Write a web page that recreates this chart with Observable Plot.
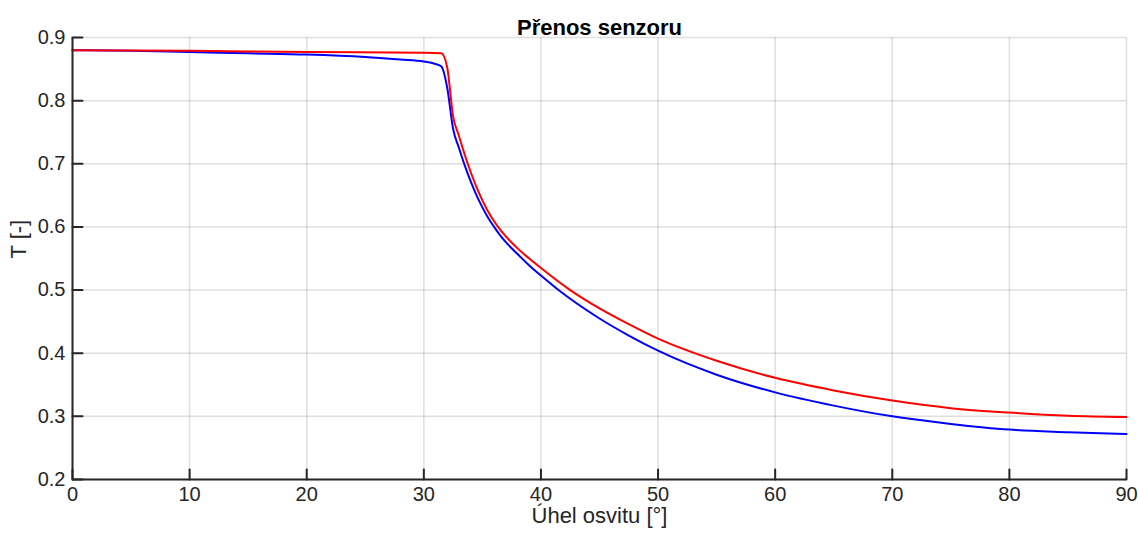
<!DOCTYPE html>
<html>
<head>
<meta charset="utf-8">
<script src="https://cdn.jsdelivr.net/npm/d3@7"></script>
<script src="https://cdn.jsdelivr.net/npm/@observablehq/plot@0.6"></script>
<style>
  html, body { margin: 0; padding: 0; background: #fff; }
  #chart { width: 1138px; height: 542px; }
  svg { font-family: "Liberation Sans", Arial, Helvetica, sans-serif; }
</style>
</head>
<body>
<div id="chart"></div>
<script>
const title = "Přenos senzoru";
const xLabel = "Úhel osvitu [°]";
const yLabel = "T [-]";

const xTicks = [0, 10, 20, 30, 40, 50, 60, 70, 80, 90];
const yTicks = [0.2, 0.3, 0.4, 0.5, 0.6, 0.7, 0.8, 0.9];

const angleRed = [0, 10, 20, 30, 31.5, 32, 32.5, 33, 33.5, 34, 34.5, 35, 35.5, 36, 36.5, 37, 38, 39, 40, 42.5, 45, 47.5, 50, 55, 60, 65, 70, 75, 80, 85, 90];
const tRed     = [0.880, 0.879, 0.877, 0.876, 0.875, 0.852, 0.775, 0.744, 0.714, 0.687, 0.663, 0.642, 0.624, 0.609, 0.596, 0.585, 0.566, 0.550, 0.535, 0.500, 0.471, 0.446, 0.423, 0.388, 0.361, 0.341, 0.325, 0.313, 0.306, 0.301, 0.299];

const angleBlue = [0, 5, 10, 15, 20, 25, 28, 30, 31, 31.5, 32, 32.5, 33, 33.5, 34, 34.5, 35, 35.5, 36, 36.5, 37, 38, 39, 40, 41.5, 45, 47.5, 50, 55, 60, 65, 70, 75, 80, 85, 90];
const tBlue     = [0.880, 0.879, 0.877, 0.875, 0.873, 0.869, 0.865, 0.862, 0.858, 0.854, 0.820, 0.755, 0.725, 0.697, 0.672, 0.650, 0.631, 0.614, 0.600, 0.587, 0.576, 0.557, 0.539, 0.523, 0.500, 0.455, 0.428, 0.404, 0.366, 0.338, 0.317, 0.300, 0.288, 0.279, 0.275, 0.272];

const redRows = angleRed.map((a, i) => ({angle: a, T: tRed[i]}));
const blueRows = angleBlue.map((a, i) => ({angle: a, T: tBlue[i]}));

const axisColor = "#262626";
const tickShape = {draw(ctx, l) { ctx.moveTo(0, 0); ctx.lineTo(0, -l); }};

const plot = Plot.plot({
  width: 1138,
  height: 542,
  marginLeft: 72,
  marginRight: 12,
  marginTop: 37,
  marginBottom: 63,
  style: {fontFamily: '"Liberation Sans", Arial, Helvetica, sans-serif', color: axisColor, background: "#fff"},
  x: {domain: [0, 90]},
  y: {domain: [0.2, 0.9]},
  marks: [
    Plot.gridX(xTicks, {stroke: axisColor, strokeOpacity: 0.15, strokeWidth: 1.5}),
    Plot.gridY(yTicks, {stroke: axisColor, strokeOpacity: 0.15, strokeWidth: 1.5}),
    Plot.line(blueRows, {x: "angle", y: "T", stroke: "#0000ff", strokeWidth: 2, curve: "monotone-x"}),
    Plot.line(redRows, {x: "angle", y: "T", stroke: "#ff0000", strokeWidth: 2, curve: "monotone-x"}),
    Plot.axisX(xTicks, {tickSize: 0, tickPadding: 7, fontSize: 20, label: null}),
    Plot.axisY(yTicks, {tickSize: 0, tickPadding: 7, fontSize: 20, label: null, tickFormat: d3.format(".1f")}),
    Plot.vector(xTicks, {x: d => d, y: () => 0.2, length: 10, rotate: 0, anchor: "start", shape: tickShape, stroke: axisColor, strokeWidth: 2}),
    Plot.vector(yTicks, {x: () => 0, y: d => d, length: 10, rotate: 90, anchor: "start", shape: tickShape, stroke: axisColor, strokeWidth: 2}),
    Plot.ruleX([0], {stroke: axisColor, strokeWidth: 2}),
    Plot.ruleY([0.2], {stroke: axisColor, strokeWidth: 2}),
    Plot.text([title], {frameAnchor: "top", dy: -18, fontSize: 22, fontWeight: "bold", fill: "#000"}),
    Plot.text([xLabel], {frameAnchor: "bottom", dy: 43, fontSize: 22, fill: axisColor}),
    Plot.text([yLabel], {frameAnchor: "left", dx: -54, rotate: -90, fontSize: 22, fill: axisColor})
  ]
});
document.getElementById("chart").append(plot);
</script>
</body>
</html>
